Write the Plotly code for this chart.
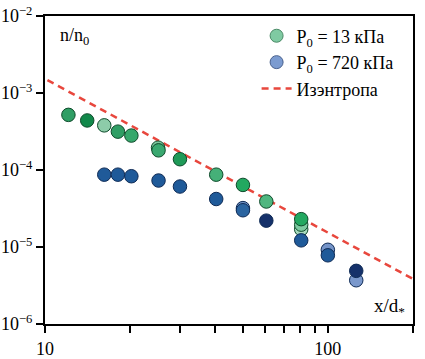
import plotly.graph_objects as go

# ---- data ----
green_x = [12.1, 14.1, 16.2, 18.1, 20.2, 25.1, 25.2, 30.0, 40.3, 50.1, 60.6, 80.5, 80.5, 80.5]
green_y = [5.2e-4, 4.4e-4, 3.8e-4, 3.15e-4, 2.8e-4, 1.95e-4, 1.8e-4, 1.38e-4, 8.7e-5, 6.4e-5, 3.9e-5, 1.7e-5, 1.95e-5, 2.3e-5]
blue_x = [16.2, 18.1, 20.2, 25.2, 30.0, 40.3, 50.1, 50.1, 60.6, 80.5, 100.0, 100.0, 126.0, 126.0]
blue_y = [8.7e-5, 8.7e-5, 8.3e-5, 7.3e-5, 6.1e-5, 4.2e-5, 3.2e-5, 3.0e-5, 2.2e-5, 1.22e-5, 9.2e-6, 7.8e-6, 3.7e-6, 4.9e-6]
isen_x = [10.2, 200.0]
isen_y = [1.47e-3, 3.85e-6]

x_ticks = [10, 20, 30, 40, 50, 60, 70, 80, 90, 100, 200]
x_ticktext = ["10", "", "", "", "", "", "", "", "", "100", ""]
y_ticks = [1e-6, 1e-5, 1e-4, 1e-3, 1e-2]
y_ticktext = ["10<sup>−6</sup>", "10<sup>−5</sup>", "10<sup>−4</sup>", "10<sup>−3</sup>", "10<sup>−2</sup>"]

labels = ["P<sub>0</sub> = 13 кПа", "P<sub>0</sub> = 720 кПа", "Изэнтропа"]

# ---- styles ----
green_colors = ["#2f9e64", "#11884a", "#8dcca9", "#2f9e64", "#36a86c", "#7cc59c", "#3aa870",
                "#1f9a58", "#45b078", "#22a860", "#4fb67f", "#a6dabd", "#7ccaa0", "#22a860"]
blue_colors = ["#1f5a99", "#1f5a99", "#1f5a99", "#1f5a99", "#1f5a99", "#1f5a99", "#6f91c4",
               "#2a64a0", "#15316a", "#1f5a99", "#7594c8", "#1f5a99", "#7a98cc", "#15316a"]
FONT = "Liberation Serif"

fig = go.Figure()
fig.add_trace(go.Scatter(x=isen_x, y=isen_y, mode="lines",
                         line=dict(color="#e8473d", width=2.5, dash="7px,5px"),
                         showlegend=False))
fig.add_trace(go.Scatter(x=green_x, y=green_y, mode="markers",
                         marker=dict(size=13.5, color=green_colors, line=dict(color="#0d4a2a", width=1)),
                         showlegend=False))
fig.add_trace(go.Scatter(x=blue_x, y=blue_y, mode="markers",
                         marker=dict(size=13.5, color=blue_colors, line=dict(color="#0e2a55", width=1)),
                         showlegend=False))
# legend entries
fig.add_trace(go.Scatter(x=[None], y=[None], mode="markers", name=labels[0],
                         marker=dict(size=13, color="#7fcaa2", line=dict(color="#4a8a66", width=1))))
fig.add_trace(go.Scatter(x=[None], y=[None], mode="markers", name=labels[1],
                         marker=dict(size=13, color="#7b9bd0", line=dict(color="#4a628e", width=1))))
fig.add_trace(go.Scatter(x=[None], y=[None], mode="lines", name=labels[2],
                         line=dict(color="#e8473d", width=2.5, dash="7px,5px")))

axis_common = dict(showline=True, linecolor="black", linewidth=2, mirror=True,
                   ticks="outside", ticklen=7, tickwidth=1.5, tickcolor="black",
                   showgrid=False, zeroline=False, automargin=False,
                   tickfont=dict(family=FONT, size=18, color="black"))
fig.update_xaxes(type="log", range=[1, 2.30103], tickvals=x_ticks, ticktext=x_ticktext, **axis_common)
fig.update_yaxes(type="log", range=[-6, -2], tickvals=y_ticks, ticktext=y_ticktext, **axis_common)

fig.add_annotation(text="n/n<sub>0</sub>", xref="paper", yref="paper", x=0.035, y=0.935,
                   xanchor="left", yanchor="middle", showarrow=False,
                   font=dict(family=FONT, size=18, color="black"))
fig.add_annotation(text="x/d<sub>*</sub>", xref="paper", yref="paper", x=0.985, y=0.055,
                   xanchor="right", yanchor="middle", showarrow=False,
                   font=dict(family=FONT, size=19, color="black"))

fig.update_layout(
    width=425, height=359,
    margin=dict(l=45, r=12, t=16, b=35),
    plot_bgcolor="white", paper_bgcolor="white",
    font=dict(family=FONT, size=18, color="black"),
    legend=dict(x=0.575, y=0.995, xanchor="left", yanchor="top", bgcolor="rgba(0,0,0,0)",
                font=dict(family=FONT, size=18, color="black")),
)
fig.write_html("out.html", post_script="document.body.style.margin='0';",
               config={"displayModeBar": False})
